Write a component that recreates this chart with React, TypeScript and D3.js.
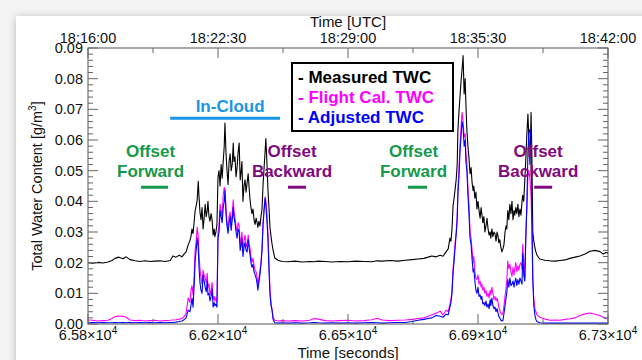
import React, { useEffect, useRef } from "react";
import * as d3 from "d3";

// time axis (seconds after midnight UTC)
const timeSec = [
  65800, 65814, 65829, 65843, 65858, 65869, 65878, 65889, 65901, 65910, 65921, 65936, 65950, 65964, 65979, 65993,
  66008, 66022, 66037, 66045, 66054, 66063, 66071, 66077, 66083, 66089, 66094, 66097, 66100, 66103, 66106, 66109,
  66112, 66115, 66118, 66120, 66123, 66126, 66129, 66132, 66135, 66138, 66141, 66144, 66146, 66149, 66152, 66155,
  66158, 66161, 66164, 66166, 66169, 66172, 66175, 66178, 66181, 66184, 66187, 66190, 66193, 66195, 66198, 66201,
  66204, 66207, 66210, 66213, 66216, 66219, 66221, 66224, 66227, 66230, 66233, 66236, 66239, 66242, 66244, 66247,
  66250, 66253, 66256, 66259, 66262, 66265, 66267, 66270, 66273, 66276, 66279, 66282, 66285, 66288, 66290, 66293,
  66296, 66299, 66302, 66305, 66308, 66311, 66313, 66316, 66319, 66322, 66325, 66328, 66331, 66334, 66339, 66348,
  66360, 66377, 66397, 66417, 66440, 66452, 66464, 66484, 66504, 66527, 66550, 66573, 66596, 66619, 66634, 66648,
  66671, 66694, 66715, 66735, 66752, 66769, 66781, 66792, 66804, 66816, 66824, 66833, 66839, 66844, 66847, 66850,
  66853, 66856, 66859, 66862, 66865, 66867, 66870, 66873, 66876, 66879, 66882, 66885, 66888, 66890, 66893, 66896,
  66899, 66902, 66905, 66908, 66911, 66913, 66916, 66919, 66922, 66925, 66928, 66931, 66934, 66936, 66939, 66942,
  66945, 66948, 66951, 66954, 66957, 66960, 66962, 66965, 66968, 66971, 66974, 66977, 66980, 66983, 66985, 66988,
  66991, 66994, 66997, 67000, 67003, 67006, 67008, 67011, 67014, 67017, 67020, 67023, 67026, 67029, 67031, 67034,
  67037, 67040, 67043, 67046, 67049, 67052, 67054, 67057, 67060, 67063, 67066, 67069, 67072, 67075, 67078, 67080,
  67083, 67086, 67089, 67092, 67095, 67103, 67118, 67133, 67147, 67162, 67176, 67190, 67205, 67219, 67234, 67248,
  67263, 67277, 67286, 67294, 67300,
];

// Measured TWC [g/m3]
const measuredTWC = [
  .0200, .0198, .0201, .0199, .0202, .0207, .0214, .0218, .0213, .0219, .0210, .0206, .0204, .0206, .0204, .0205,
  .0206, .0204, .0207, .0222, .0218, .0224, .0219, .0228, .0235, .0258, .0272, .0285, .0310, .0295, .0330, .0370,
  .0385, .0405, .0465, .0420, .0365, .0340, .0380, .0310, .0345, .0390, .0350, .0370, .0400, .0350, .0335, .0360,
  .0340, .0290, .0310, .0285, .0300, .0325, .0480, .0500, .0450, .0520, .0475, .0530, .0580, .0655, .0560, .0500,
  .0455, .0530, .0555, .0500, .0520, .0590, .0530, .0545, .0480, .0510, .0560, .0590, .0470, .0500, .0530, .0400,
  .0450, .0470, .0430, .0460, .0490, .0440, .0410, .0380, .0360, .0375, .0340, .0325, .0345, .0330, .0315, .0335,
  .0320, .0350, .0375, .0455, .0510, .0565, .0605, .0530, .0440, .0380, .0315, .0285, .0260, .0240, .0215, .0208,
  .0204, .0203, .0205, .0202, .0204, .0203, .0205, .0204, .0202, .0204, .0203, .0205, .0204, .0203, .0206, .0205,
  .0207, .0205, .0208, .0210, .0212, .0214, .0218, .0222, .0219, .0224, .0221, .0235, .0245, .0280, .0270, .0310,
  .0385, .0410, .0440, .0470, .0520, .0630, .0690, .0740, .0790, .0830, .0875, .0750, .0800, .0720, .0630, .0580,
  .0540, .0490, .0510, .0460, .0435, .0450, .0410, .0430, .0375, .0400, .0370, .0345, .0380, .0360, .0330, .0350,
  .0300, .0320, .0345, .0310, .0290, .0300, .0280, .0310, .0285, .0300, .0295, .0270, .0300, .0285, .0265, .0275,
  .0250, .0235, .0245, .0260, .0300, .0320, .0310, .0370, .0340, .0390, .0360, .0400, .0340, .0370, .0355, .0380,
  .0360, .0390, .0350, .0375, .0355, .0400, .0420, .0400, .0470, .0540, .0620, .0685, .0600, .0520, .0690, .0580,
  .0300, .0270, .0250, .0235, .0225, .0212, .0208, .0206, .0205, .0207, .0209, .0214, .0218, .0222, .0228, .0237,
  .0240, .0236, .0228, .0233, .0232,
];

// Flight Cal. TWC [g/m3]
const flightCalTWC = [
  .0013, .0012, .0010, .0011, .0012, .0018, .0024, .0026, .0025, .0022, .0013, .0011, .0012, .0010, .0011, .0012,
  .0010, .0011, .0012, .0013, .0014, .0016, .0018, .0024, .0035, .0085, .0070, .0110, .0125, .0095, .0150, .0240,
  .0270, .0315, .0285, .0230, .0180, .0150, .0130, .0175, .0160, .0150, .0135, .0165, .0120, .0130, .0095, .0110,
  .0135, .0080, .0090, .0075, .0085, .0070, .0300, .0320, .0390, .0370, .0350, .0420, .0445, .0440, .0380, .0330,
  .0310, .0350, .0365, .0320, .0360, .0405, .0370, .0345, .0320, .0300, .0330, .0320, .0260, .0280, .0300, .0240,
  .0270, .0290, .0260, .0250, .0290, .0260, .0250, .0220, .0200, .0215, .0190, .0175, .0170, .0150, .0125, .0150,
  .0175, .0200, .0250, .0330, .0380, .0415, .0400, .0360, .0300, .0200, .0110, .0070, .0045, .0020, .0012, .0010,
  .0011, .0010, .0011, .0010, .0012, .0018, .0016, .0011, .0010, .0011, .0012, .0010, .0011, .0014, .0019, .0013,
  .0011, .0012, .0013, .0015, .0018, .0020, .0025, .0030, .0035, .0042, .0030, .0045, .0040, .0065, .0080, .0110,
  .0180, .0220, .0265, .0300, .0350, .0440, .0500, .0580, .0640, .0690, .0660, .0610, .0620, .0560, .0520, .0440,
  .0390, .0300, .0280, .0240, .0200, .0220, .0170, .0150, .0145, .0160, .0130, .0140, .0120, .0130, .0110, .0120,
  .0100, .0110, .0090, .0100, .0085, .0110, .0095, .0120, .0100, .0080, .0090, .0075, .0085, .0070, .0055, .0045,
  .0035, .0030, .0035, .0060, .0090, .0120, .0140, .0205, .0180, .0195, .0170, .0155, .0185, .0160, .0180, .0200,
  .0170, .0190, .0175, .0195, .0200, .0180, .0260, .0200, .0150, .0300, .0380, .0480, .0500, .0470, .0420, .0330,
  .0150, .0080, .0050, .0040, .0030, .0022, .0016, .0012, .0013, .0012, .0015, .0017, .0020, .0028, .0033, .0036,
  .0032, .0028, .0022, .0018, .0017,
];

// Adjusted TWC [g/m3]
const adjustedTWC = [
  .0004, .0005, .0004, .0005, .0004, .0004, .0005, .0004, .0005, .0004, .0005, .0004, .0005, .0004, .0005, .0004,
  .0005, .0004, .0005, .0005, .0006, .0008, .0010, .0014, .0020, .0045, .0040, .0060, .0085, .0055, .0120, .0205,
  .0240, .0280, .0250, .0190, .0135, .0110, .0100, .0160, .0140, .0120, .0105, .0140, .0095, .0100, .0075, .0090,
  .0115, .0055, .0070, .0060, .0065, .0055, .0280, .0300, .0370, .0350, .0330, .0380, .0400, .0435, .0360, .0320,
  .0295, .0330, .0350, .0305, .0340, .0380, .0350, .0330, .0300, .0280, .0310, .0300, .0240, .0260, .0280, .0220,
  .0250, .0265, .0240, .0235, .0275, .0245, .0230, .0200, .0185, .0195, .0170, .0160, .0150, .0130, .0110, .0135,
  .0160, .0195, .0240, .0325, .0370, .0410, .0390, .0340, .0280, .0180, .0095, .0060, .0045, .0015, .0004, .0003,
  .0004, .0003, .0004, .0003, .0004, .0005, .0004, .0003, .0004, .0003, .0004, .0003, .0004, .0005, .0004, .0003,
  .0004, .0005, .0005, .0008, .0012, .0015, .0018, .0020, .0028, .0025, .0022, .0032, .0030, .0055, .0070, .0100,
  .0165, .0205, .0250, .0290, .0340, .0420, .0480, .0560, .0610, .0660, .0640, .0580, .0600, .0530, .0500, .0420,
  .0360, .0280, .0260, .0210, .0170, .0180, .0140, .0110, .0100, .0120, .0090, .0095, .0080, .0090, .0065, .0070,
  .0060, .0075, .0055, .0065, .0050, .0080, .0060, .0085, .0060, .0050, .0055, .0040, .0050, .0035, .0025, .0020,
  .0012, .0010, .0012, .0035, .0060, .0085, .0100, .0145, .0120, .0150, .0125, .0130, .0140, .0120, .0135, .0150,
  .0125, .0145, .0130, .0150, .0140, .0130, .0230, .0160, .0140, .0280, .0390, .0560, .0625, .0635, .0600, .0400,
  .0150, .0060, .0030, .0015, .0008, .0004, .0003, .0003, .0003, .0003, .0003, .0003, .0003, .0003, .0003, .0003,
  .0003, .0003, .0003, .0003, .0003,
];

const seriesNames = ["- Measured TWC", "- Flight Cal. TWC", "- Adjusted TWC"];
const seriesColors = ["#000000", "#ff00ff", "#0000ff"];

const yTickValues = [0, 0.01, 0.02, 0.03, 0.04, 0.05, 0.06, 0.07, 0.08, 0.09];
const xTickValues = [65800, 66175, 66550, 66925, 67300];
const xTickLabels = ["6.58", "6.62", "6.65", "6.69", "6.73"];
const utcTickValues = [65760, 66150, 66540, 66930, 67320];
const utcTickLabels = ["18:16:00", "18:22:30", "18:29:00", "18:35:30", "18:42:00"];

// annotation spans: [start s, end s, level g/m3]
const inCloudSpan = [66037, 66354, 0.0671];
const forwardSpans = [[65953, 66031, 0.0446], [66723, 66778, 0.0446]];
const backwardSpans = [[66377, 66429, 0.0446], [67087, 67139, 0.0446]];

function App() {
  const ref = useRef(null);

  useEffect(() => {
    const W = 642, H = 360;
    const margin = { top: 48, right: 34, bottom: 36, left: 88 };
    const width = W - margin.left - margin.right;
    const height = H - margin.top - margin.bottom;

    const root = d3.select(ref.current);
    root.selectAll("*").remove();
    const svg = root.append("svg").attr("width", W).attr("height", H)
      .style("position", "absolute").style("left", 0).style("top", 0)
      .style("font-family", "'Liberation Sans', Arial, sans-serif");

    // page background + framed panel with soft shadow
    const defs = svg.append("defs");
    const f = defs.append("filter").attr("id", "shadow").attr("x", "-10%").attr("y", "-10%").attr("width", "130%").attr("height", "130%");
    f.append("feGaussianBlur").attr("in", "SourceAlpha").attr("stdDeviation", 4);
    f.append("feOffset").attr("dx", 0).attr("dy", 1).attr("result", "b");
    f.append("feComponentTransfer").append("feFuncA").attr("type", "linear").attr("slope", 0.25);
    const fm = f.append("feMerge");
    fm.append("feMergeNode");
    fm.append("feMergeNode").attr("in", "SourceGraphic");
    svg.append("rect").attr("width", W).attr("height", H).attr("fill", "#f4f4f4");
    svg.append("rect").attr("x", 16).attr("y", 16).attr("width", W).attr("height", H)
      .attr("fill", "#fff").attr("filter", "url(#shadow)");

    const x = d3.scaleLinear().domain([65800, 67300]).range([0, width]);
    const xUtc = d3.scaleLinear().domain([65760, 67320]).range([0, width]);
    const y = d3.scaleLinear().domain([0, 0.09]).range([height, 0]);

    const g = svg.append("g").attr("transform", "translate(" + margin.left + "," + margin.top + ")");

    // data lines
    const seriesData = [measuredTWC, flightCalTWC, adjustedTWC];
    seriesData.forEach((vals, i) => {
      const line = d3.line<number>()
        .x((d, k) => x(timeSec[k]))
        .y((d) => y(d));
      g.append("path").datum(vals).attr("d", line).attr("fill", "none")
        .attr("stroke", seriesColors[i]).attr("stroke-width", 1.1)
        .attr("stroke-linejoin", "round");
    });

    // frame
    g.append("rect").attr("width", width).attr("height", height)
      .attr("fill", "none").attr("stroke", "#555").attr("stroke-width", 1);

    const tickColor = "#666";
    const fs = 14.5;
    // y ticks: left and right, inward
    const yMinor = d3.range(0, 0.0901, 0.002);
    yMinor.forEach((v, i) => {
      const major = i % 5 === 0;
      const len = major ? 10 : 5;
      g.append("line").attr("x1", 0).attr("x2", len).attr("y1", y(v)).attr("y2", y(v)).attr("stroke", tickColor);
      g.append("line").attr("x1", width).attr("x2", width - len).attr("y1", y(v)).attr("y2", y(v)).attr("stroke", tickColor);
    });
    yTickValues.forEach((v) => {
      g.append("text").attr("x", -5).attr("y", y(v) + 5).attr("text-anchor", "end")
        .attr("font-size", fs).attr("fill", "#111").text(d3.format(".2f")(v));
    });

    // bottom ticks
    d3.range(65800, 67301, 187.5).forEach((v, i) => {
      const len = i % 2 === 0 ? 10 : 5;
      g.append("line").attr("x1", x(v)).attr("x2", x(v)).attr("y1", height).attr("y2", height - len).attr("stroke", tickColor);
    });
    xTickValues.forEach((v, i) => {
      const t = g.append("text").attr("x", x(v)).attr("y", height + 16).attr("text-anchor", "middle")
        .attr("font-size", fs).attr("fill", "#111");
      t.append("tspan").text(xTickLabels[i] + "\u00d710");
      t.append("tspan").attr("dy", -6).attr("font-size", 10).text("4");
    });
    g.append("text").attr("x", width / 2).attr("y", height + 34).attr("text-anchor", "middle")
      .attr("font-size", 15).attr("fill", "#111").text("Time [seconds]");

    // top ticks (UTC)
    d3.range(65760, 67321, 195).forEach((v, i) => {
      const len = i % 2 === 0 ? 10 : 5;
      g.append("line").attr("x1", xUtc(v)).attr("x2", xUtc(v)).attr("y1", 0).attr("y2", len).attr("stroke", tickColor);
    });
    utcTickValues.forEach((v, i) => {
      g.append("text").attr("x", xUtc(v)).attr("y", -5).attr("text-anchor", "middle")
        .attr("font-size", fs).attr("fill", "#111").text(utcTickLabels[i]);
    });
    g.append("text").attr("x", width / 2).attr("y", -21).attr("text-anchor", "middle")
      .attr("font-size", 15).attr("fill", "#111").text("Time [UTC]");

    // y title
    const yt = svg.append("text").attr("transform", "translate(42," + (margin.top + height / 2) + ") rotate(-90)")
      .attr("text-anchor", "middle").attr("font-size", 14.5).attr("fill", "#111");
    yt.append("tspan").text("Total Water Content [g/m");
    yt.append("tspan").attr("dy", -6).attr("font-size", 10).text("3");
    yt.append("tspan").attr("dy", 6).text("]");

    // annotations
    const bold = (sel, tx, ty, txt, col) =>
      sel.append("text").attr("x", tx).attr("y", ty).attr("text-anchor", "middle")
        .attr("font-size", 17).attr("font-weight", "bold").attr("fill", col).text(txt);

    const cloudCol = "#1a96e8";
    g.append("line").attr("x1", x(inCloudSpan[0])).attr("x2", x(inCloudSpan[1]))
      .attr("y1", y(inCloudSpan[2])).attr("y2", y(inCloudSpan[2])).attr("stroke", cloudCol).attr("stroke-width", 3);
    bold(g, (x(inCloudSpan[0]) + x(inCloudSpan[1])) / 2 + 5, y(inCloudSpan[2]) - 6, "In-Cloud", cloudCol);

    const fwdCol = "#16994a";
    forwardSpans.forEach((s) => {
      const cx = (x(s[0]) + x(s[1])) / 2;
      g.append("line").attr("x1", x(s[0])).attr("x2", x(s[1])).attr("y1", y(s[2])).attr("y2", y(s[2]))
        .attr("stroke", fwdCol).attr("stroke-width", 3);
      bold(g, cx - 4, y(s[2]) - 30, "Offset", fwdCol);
      bold(g, cx - 4, y(s[2]) - 10, "Forward", fwdCol);
    });
    const bwdCol = "#800a80";
    backwardSpans.forEach((s) => {
      const cx = (x(s[0]) + x(s[1])) / 2;
      g.append("line").attr("x1", x(s[0])).attr("x2", x(s[1])).attr("y1", y(s[2])).attr("y2", y(s[2]))
        .attr("stroke", bwdCol).attr("stroke-width", 3);
      bold(g, cx - 5, y(s[2]) - 30, "Offset", bwdCol);
      bold(g, cx - 5, y(s[2]) - 10, "Backward", bwdCol);
    });

    // legend
    const lg = svg.append("g").attr("transform", "translate(292,63)");
    lg.append("rect").attr("width", 161).attr("height", 68).attr("fill", "#fff")
      .attr("stroke", "#000").attr("stroke-width", 2);
    seriesNames.forEach((n, i) => {
      lg.append("text").attr("x", 6).attr("y", 20 + i * 20).attr("font-size", 17)
        .attr("font-weight", "bold").attr("fill", seriesColors[i]).text(n);
    });
  }, []);

  return <div ref={ref}></div>;
}

export default App;
